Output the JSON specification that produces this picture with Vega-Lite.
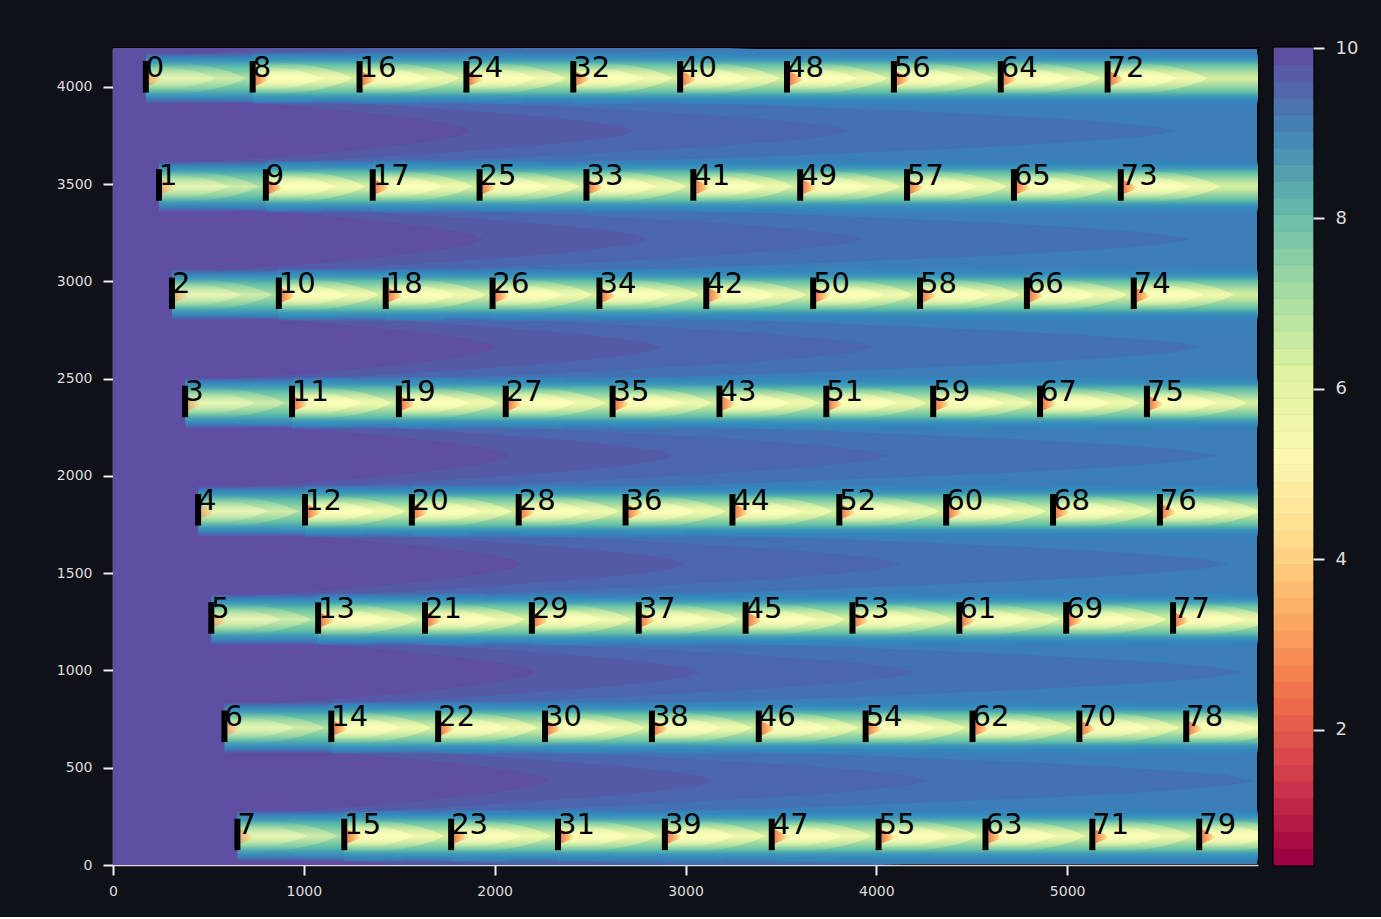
{
  "$schema": "https://vega.github.io/schema/vega-lite/v6.json",
  "background": "#0e1117",
  "padding": {"left": 55, "top": 37, "right": 24, "bottom": 18},
  "bounds": "flush",
  "spacing": 16,
  "config": {
    "font": "DejaVu Sans",
    "axis": {"grid": false, "title": null, "domainColor": "#d9d9d9", "domainWidth": 1.5, "tickColor": "#eeeeee", "tickWidth": 2, "tickSize": 10, "labelColor": "#dddddd", "labelFont": "DejaVu Sans", "labelFontSize": 14, "zindex": 1, "labelFlush": false},
    "axisX": {"labelPadding": 9},
    "axisY": {"labelPadding": 11}
  },
  "datasets": {
    "turbines": [
      {"id":0,"x":172,"y":4052},{"id":1,"x":241,"y":3496},{"id":2,"x":309,"y":2939},{"id":3,"x":378,"y":2383},{"id":4,"x":446,"y":1826},{"id":5,"x":515,"y":1270},{"id":6,"x":584,"y":713},{"id":7,"x":652,"y":157},
      {"id":8,"x":732,"y":4052},{"id":9,"x":801,"y":3496},{"id":10,"x":869,"y":2939},{"id":11,"x":938,"y":2383},{"id":12,"x":1006,"y":1826},{"id":13,"x":1075,"y":1270},{"id":14,"x":1144,"y":713},{"id":15,"x":1212,"y":157},
      {"id":16,"x":1292,"y":4052},{"id":17,"x":1361,"y":3496},{"id":18,"x":1429,"y":2939},{"id":19,"x":1498,"y":2383},{"id":20,"x":1566,"y":1826},{"id":21,"x":1635,"y":1270},{"id":22,"x":1704,"y":713},{"id":23,"x":1772,"y":157},
      {"id":24,"x":1852,"y":4052},{"id":25,"x":1921,"y":3496},{"id":26,"x":1989,"y":2939},{"id":27,"x":2058,"y":2383},{"id":28,"x":2126,"y":1826},{"id":29,"x":2195,"y":1270},{"id":30,"x":2264,"y":713},{"id":31,"x":2332,"y":157},
      {"id":32,"x":2412,"y":4052},{"id":33,"x":2481,"y":3496},{"id":34,"x":2549,"y":2939},{"id":35,"x":2618,"y":2383},{"id":36,"x":2686,"y":1826},{"id":37,"x":2755,"y":1270},{"id":38,"x":2824,"y":713},{"id":39,"x":2892,"y":157},
      {"id":40,"x":2972,"y":4052},{"id":41,"x":3041,"y":3496},{"id":42,"x":3109,"y":2939},{"id":43,"x":3178,"y":2383},{"id":44,"x":3246,"y":1826},{"id":45,"x":3315,"y":1270},{"id":46,"x":3384,"y":713},{"id":47,"x":3452,"y":157},
      {"id":48,"x":3532,"y":4052},{"id":49,"x":3601,"y":3496},{"id":50,"x":3669,"y":2939},{"id":51,"x":3738,"y":2383},{"id":52,"x":3806,"y":1826},{"id":53,"x":3875,"y":1270},{"id":54,"x":3944,"y":713},{"id":55,"x":4012,"y":157},
      {"id":56,"x":4092,"y":4052},{"id":57,"x":4161,"y":3496},{"id":58,"x":4229,"y":2939},{"id":59,"x":4298,"y":2383},{"id":60,"x":4366,"y":1826},{"id":61,"x":4435,"y":1270},{"id":62,"x":4504,"y":713},{"id":63,"x":4572,"y":157},
      {"id":64,"x":4652,"y":4052},{"id":65,"x":4721,"y":3496},{"id":66,"x":4789,"y":2939},{"id":67,"x":4858,"y":2383},{"id":68,"x":4926,"y":1826},{"id":69,"x":4995,"y":1270},{"id":70,"x":5064,"y":713},{"id":71,"x":5132,"y":157},
      {"id":72,"x":5212,"y":4052},{"id":73,"x":5281,"y":3496},{"id":74,"x":5349,"y":2939},{"id":75,"x":5418,"y":2383},{"id":76,"x":5486,"y":1826},{"id":77,"x":5555,"y":1270},{"id":78,"x":5624,"y":713},{"id":79,"x":5692,"y":157}
    ],
    "gaps": [
      {"g":-1,"x":-69,"y":4330},{"g":0,"x":0,"y":3774},{"g":1,"x":69,"y":3217},{"g":2,"x":137,"y":2661},{"g":3,"x":206,"y":2104},{"g":4,"x":274,"y":1548},{"g":5,"x":343,"y":991},{"g":6,"x":412,"y":435},{"g":7,"x":480,"y":-121}
    ],
    "levels": [
      {"lo":0.410,"hi":0.606},{"lo":0.606,"hi":0.801},{"lo":0.801,"hi":0.997},{"lo":0.997,"hi":1.193},{"lo":1.193,"hi":1.389},{"lo":1.389,"hi":1.584},{"lo":1.584,"hi":1.780},{"lo":1.780,"hi":1.976},{"lo":1.976,"hi":2.171},{"lo":2.171,"hi":2.367},
      {"lo":2.367,"hi":2.563},{"lo":2.563,"hi":2.758},{"lo":2.758,"hi":2.954},{"lo":2.954,"hi":3.150},{"lo":3.150,"hi":3.346},{"lo":3.346,"hi":3.541},{"lo":3.541,"hi":3.737},{"lo":3.737,"hi":3.933},{"lo":3.933,"hi":4.128},{"lo":4.128,"hi":4.324},
      {"lo":4.324,"hi":4.520},{"lo":4.520,"hi":4.715},{"lo":4.715,"hi":4.911},{"lo":4.911,"hi":5.107},{"lo":5.107,"hi":5.303},{"lo":5.303,"hi":5.498},{"lo":5.498,"hi":5.694},{"lo":5.694,"hi":5.890},{"lo":5.890,"hi":6.085},{"lo":6.085,"hi":6.281},
      {"lo":6.281,"hi":6.477},{"lo":6.477,"hi":6.672},{"lo":6.672,"hi":6.868},{"lo":6.868,"hi":7.064},{"lo":7.064,"hi":7.260},{"lo":7.260,"hi":7.455},{"lo":7.455,"hi":7.651},{"lo":7.651,"hi":7.847},{"lo":7.847,"hi":8.042},{"lo":8.042,"hi":8.238},
      {"lo":8.238,"hi":8.434},{"lo":8.434,"hi":8.629},{"lo":8.629,"hi":8.825},{"lo":8.825,"hi":9.021},{"lo":9.021,"hi":9.217},{"lo":9.217,"hi":9.412},{"lo":9.412,"hi":9.608},{"lo":9.608,"hi":9.804},{"lo":9.804,"hi":10.0}
    ]
  },
  "hconcat": [
    {
      "width": 1145,
      "height": 817,
      "view": {"fill": "#3b7eb8", "stroke": "#000000", "strokeWidth": 2},
      "encoding": {
        "x": {"field": "x", "type": "quantitative", "scale": {"domain": [0, 6000], "nice": false, "zero": false}, "axis": {"values": [0, 1000, 2000, 3000, 4000, 5000], "format": "d"}},
        "y": {"field": "y", "type": "quantitative", "scale": {"domain": [0, 4200], "nice": false, "zero": false}, "axis": {"values": [0, 500, 1000, 1500, 2000, 2500, 3000, 3500, 4000], "format": "d"}}
      },
      "layer": [
        {"data": {"name": "gaps"}, "mark": {"type": "point", "shape": "M-480,-56 L46,-56 L46,-44 L250,-38.5 L453,-32.4 L657,-25.4 L860,-16.8 L962,-11 L1033,-5.4 L1064,0 L1033,5.4 L962,11 L860,16.8 L657,25.4 L453,32.4 L250,38.5 L46,44 L46,56 L-480,56 Z", "size": 4, "filled": true, "fill": "#4471b2", "strokeWidth": 0, "opacity": 1, "clip": true}},
        {"data": {"name": "gaps"}, "mark": {"type": "point", "shape": "M-480,-56 L46,-56 L46,-41 L184,-35.9 L322,-30.2 L461,-23.7 L599,-15.6 L668,-10.3 L716,-5 L737,0 L716,5 L668,10.3 L599,15.6 L461,23.7 L322,30.2 L184,35.9 L46,41 L46,56 L-480,56 Z", "size": 4, "filled": true, "fill": "#4c66ad", "strokeWidth": 0, "opacity": 1, "clip": true}},
        {"data": {"name": "gaps"}, "mark": {"type": "point", "shape": "M-480,-56 L46,-56 L46,-38 L141,-33.3 L237,-28 L332,-21.9 L427,-14.5 L474,-9.5 L508,-4.6 L522,0 L508,4.6 L474,9.5 L427,14.5 L332,21.9 L237,28 L141,33.3 L46,38 L46,56 L-480,56 Z", "size": 4, "filled": true, "fill": "#555aa7", "strokeWidth": 0, "opacity": 1, "clip": true}},
        {"data": {"name": "gaps"}, "mark": {"type": "point", "shape": "M-480,-56 L46,-56 L46,-35 L108,-30.6 L170,-25.8 L233,-20.2 L295,-13.3 L326,-8.8 L348,-4.3 L357,0 L348,4.3 L326,8.8 L295,13.3 L233,20.2 L170,25.8 L108,30.6 L46,35 L46,56 L-480,56 Z", "size": 4, "filled": true, "fill": "#5e4fa2", "strokeWidth": 0, "opacity": 1, "clip": true}},
        {"data": {"name": "turbines"}, "transform": [{"filter": "datum.id < 8"}],
         "mark": {"type": "point", "shape": "M0,-24 L165,-24 L165,27 L0,27 Z", "size": 4, "filled": true, "strokeWidth": 0, "opacity": 1, "clip": true,
           "fill": {"gradient": "linear", "x1": 0, "y1": 0, "x2": 0, "y2": 1, "stops": [
             {"offset": 0, "color": "rgba(50,136,189,0)"}, {"offset": 0.09, "color": "rgba(50,136,189,0.85)"}, {"offset": 0.2, "color": "#45a0b4"}, {"offset": 0.3, "color": "#66c2a5"}, {"offset": 0.42, "color": "#94d3a4"}, {"offset": 0.5, "color": "#acdea3"},
             {"offset": 0.58, "color": "#94d3a4"}, {"offset": 0.7, "color": "#66c2a5"}, {"offset": 0.8, "color": "#45a0b4"}, {"offset": 0.91, "color": "rgba(50,136,189,0.85)"}, {"offset": 1, "color": "rgba(50,136,189,0)"}]}}},
        {"data": {"name": "turbines"}, "transform": [{"filter": "datum.id >= 8"}],
         "mark": {"type": "point", "shape": "M0,-25 L165,-25 L165,28 L0,28 Z", "size": 4, "filled": true, "strokeWidth": 0, "opacity": 1, "clip": true,
           "fill": {"gradient": "linear", "x1": 0, "y1": 0, "x2": 0, "y2": 1, "stops": [
             {"offset": 0, "color": "rgba(50,136,189,0)"}, {"offset": 0.08, "color": "rgba(50,136,189,0.85)"}, {"offset": 0.16, "color": "#3f98b7"}, {"offset": 0.25, "color": "#66c2a5"}, {"offset": 0.35, "color": "#9ad5a4"}, {"offset": 0.44, "color": "#c6e8a0"}, {"offset": 0.5, "color": "#d2ee9e"},
             {"offset": 0.56, "color": "#c6e8a0"}, {"offset": 0.65, "color": "#9ad5a4"}, {"offset": 0.75, "color": "#66c2a5"}, {"offset": 0.84, "color": "#3f98b7"}, {"offset": 0.92, "color": "rgba(50,136,189,0.85)"}, {"offset": 1, "color": "rgba(50,136,189,0)"}]}}},
        {"data": {"name": "turbines"},
         "mark": {"type": "point", "shape": "M0,-14 C35,-16 75,-11 100,1.5 C75,14 35,19 0,17 Z", "size": 4, "filled": true, "strokeWidth": 0, "clip": true,
           "fill": {"gradient": "linear", "x1": 0, "y1": 0, "x2": 0, "y2": 1, "stops": [
             {"offset": 0, "color": "rgba(240,249,165,0)"}, {"offset": 0.25, "color": "rgba(240,249,165,0.45)"}, {"offset": 0.5, "color": "rgba(250,253,180,0.75)"}, {"offset": 0.75, "color": "rgba(240,249,165,0.45)"}, {"offset": 1, "color": "rgba(240,249,165,0)"}]}},
         "encoding": {"opacity": {"condition": {"test": "datum.id < 8", "value": 0.6}, "value": 1}}},
        {"data": {"name": "turbines"},
         "mark": {"type": "point", "shape": "M2,-10 C25,-11 50,-7 70,1.5 C50,10 25,14 2,13 Z", "size": 4, "filled": true, "strokeWidth": 0, "clip": true,
           "fill": {"gradient": "linear", "x1": 0, "y1": 0, "x2": 0, "y2": 1, "stops": [
             {"offset": 0, "color": "rgba(255,255,185,0)"}, {"offset": 0.25, "color": "rgba(255,255,185,0.45)"}, {"offset": 0.5, "color": "rgba(255,255,190,0.8)"}, {"offset": 0.75, "color": "rgba(255,255,185,0.45)"}, {"offset": 1, "color": "rgba(255,255,185,0)"}]}},
         "encoding": {"opacity": {"condition": {"test": "datum.id < 8", "value": 0.6}, "value": 1}}},
        {"data": {"name": "turbines"},
         "mark": {"type": "point", "shape": "M3,-5 C8,-3 13,0 18,3 C13,5 8,7 3,9 Z", "size": 4, "filled": true, "strokeWidth": 0, "clip": true,
           "fill": {"gradient": "linear", "x1": 0, "y1": 0, "x2": 1, "y2": 0, "stops": [
             {"offset": 0, "color": "#f06a45"}, {"offset": 0.3, "color": "#f99753"}, {"offset": 0.65, "color": "#fdcd7c"}, {"offset": 1, "color": "rgba(255,245,175,0)"}]}},
         "encoding": {"opacity": {"condition": {"test": "datum.id < 8", "value": 0.45}, "value": 0.85}}},
        {"data": {"name": "turbines"}, "mark": {"type": "tick", "orient": "vertical", "size": 31.5, "thickness": 6, "color": "#000000", "opacity": 1}},
        {"data": {"name": "turbines"}, "mark": {"type": "text", "align": "left", "baseline": "alphabetic", "fontSize": 29, "font": "DejaVu Sans", "color": "#000000"},
         "encoding": {"text": {"field": "id", "type": "nominal"}}}
      ]
    },
    {
      "width": 39,
      "height": 817,
      "data": {"name": "levels"},
      "view": {"stroke": "#000000", "strokeWidth": 3},
      "mark": {"type": "rect", "strokeWidth": 0.8},
      "encoding": {
        "y": {"field": "lo", "type": "quantitative", "scale": {"domain": [0.41, 10], "nice": false, "zero": false},
              "axis": {"orient": "right", "values": [2, 4, 6, 8, 10], "format": "d", "domain": false, "labelFontSize": 18, "labelPadding": 11, "tickSize": 11}},
        "y2": {"field": "hi"},
        "color": {"field": "lo", "type": "quantitative", "scale": {"scheme": "spectral", "domain": [0.41, 9.804]}, "legend": null},
        "stroke": {"field": "lo", "type": "quantitative", "scale": {"scheme": "spectral", "domain": [0.41, 9.804]}, "legend": null}
      }
    }
  ]
}
